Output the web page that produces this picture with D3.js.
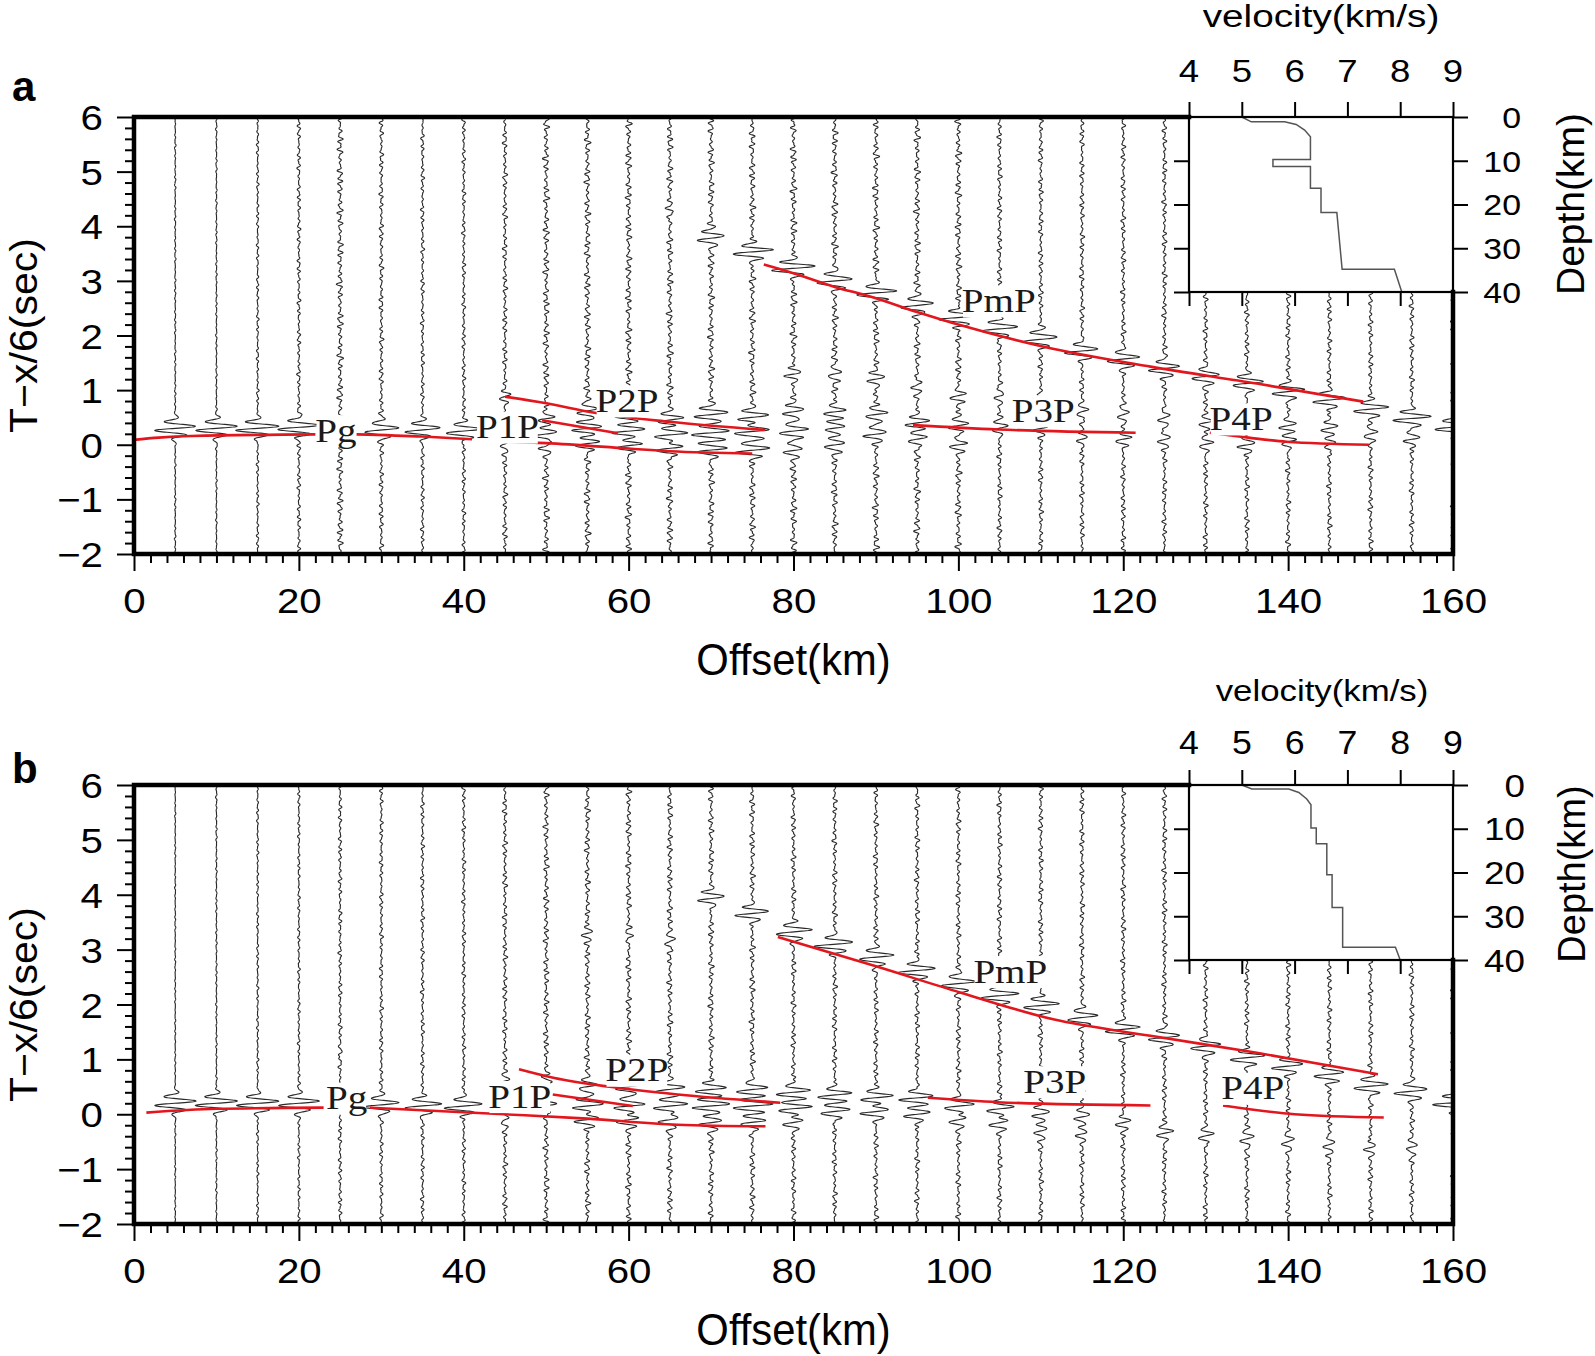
<!DOCTYPE html>
<html><head><meta charset="utf-8">
<script src="https://cdn.jsdelivr.net/npm/d3@7"></script>
<style>body{margin:0;background:#fff} svg{display:block}</style>
</head><body>
<svg id="c" width="1595" height="1356"></svg>
<script>
// ---------------- DATA ----------------
const traceOffsets = [5,10,15,20,25,30,35,40,45,50,55,60,65,70,75,80,85,90,95,100,105,110,115,120,125,130,135,140,145,150,155,160];
const xTicks = [0,20,40,60,80,100,120,140,160];
const yTicks = [-2,-1,0,1,2,3,4,5,6];
const velTicks = [4,5,6,7,8,9];
const depthTicks = [0,10,20,30,40];
const phaseNames = ["Pg","P1P","P2P","PmP","P3P","P4P"];

// arrivals: [offset km, reduced time s, relative amplitude]
const arrivalsA = [
 [5,0.30,1.0],[10,0.30,1.0],[15,0.30,1.0],[20,0.32,1.0],
 [25,0.45,0.12],
 [30,0.27,0.85],[35,0.27,0.85],[40,0.25,0.85],
 [45,0.88,0.2],[45,0.28,0.25],[45,0.02,0.22],
 [50,0.48,0.35],[50,0.20,0.5],[50,-0.02,0.35],
 [55,0.62,0.5],[55,0.30,0.65],[55,0.02,0.55],
 [60,0.55,0.6],[60,0.25,0.75],[60,-0.02,0.55],
 [65,4.2,0.2],[65,0.45,0.65],[65,0.18,0.9],[65,-0.07,0.7],
 [70,3.78,0.7],[70,0.55,0.75],[70,0.22,0.9],[70,-0.1,0.65],
 [75,3.53,0.9],[75,0.50,0.8],[75,0.24,0.9],[75,-0.1,0.75],
 [80,3.23,0.95],[80,1.3,0.3],[80,0.6,0.5],[80,0.25,0.6],[80,-0.1,0.5],
 [85,3.0,0.95],[85,1.3,0.35],[85,0.6,0.45],[85,0.3,0.5],[85,0.0,0.5],
 [90,2.78,0.9],[90,1.2,0.35],[90,0.55,0.45],[90,0.2,0.5],
 [95,2.55,0.85],[95,1.1,0.3],[95,0.4,0.5],[95,0.1,0.45],
 [100,2.33,0.85],[100,0.9,0.3],[100,0.35,0.45],[100,0.0,0.4],
 [105,2.12,0.85],[105,0.9,0.25],[105,0.3,0.35],
 [110,1.93,0.85],[110,0.8,0.25],[110,0.3,0.3],
 [115,1.72,0.8],[115,0.6,0.3],[115,0.1,0.25],
 [120,1.57,0.8],[120,0.55,0.3],[120,0.1,0.3],
 [125,1.40,0.75],[125,0.5,0.3],[125,0.1,0.3],
 [130,1.25,0.7],[130,0.4,0.3],[130,0.0,0.3],
 [135,1.12,0.75],[135,0.35,0.35],[135,0.0,0.35],
 [140,0.97,0.75],[140,0.35,0.35],[140,0.05,0.35],
 [145,0.82,0.75],[145,0.3,0.35],[145,0.0,0.3],
 [150,0.65,0.8],[150,0.2,0.4],
 [155,0.48,0.85],[155,0.1,0.35],
 [160,0.32,0.85]
];
const arrivalsB = [
 [5,0.2,1.0],[10,0.2,1.0],[15,0.2,1.0],[20,0.2,1.0],
 [25,1.1,0.1],
 [30,0.17,0.85],[35,0.15,0.85],[40,0.15,0.85],
 [45,0.6,0.2],[45,-0.1,0.2],
 [50,0.55,0.25],[50,0.15,0.5],
 [55,3.3,0.25],[55,0.5,0.5],[55,0.15,0.75],[55,-0.1,0.6],
 [60,3.2,0.2],[60,0.5,0.6],[60,0.15,0.75],[60,-0.1,0.6],
 [65,3.15,0.3],[65,0.45,0.7],[65,0.15,0.9],[65,-0.1,0.6],
 [70,3.93,0.6],[70,0.45,0.7],[70,0.15,0.9],[70,-0.15,0.6],
 [75,3.66,0.7],[75,0.45,0.75],[75,0.15,0.9],[75,-0.15,0.6],
 [80,3.32,0.9],[80,0.4,0.8],[80,0.1,0.8],[80,-0.15,0.5],
 [85,3.1,0.9],[85,0.35,0.75],[85,0.05,0.7],
 [90,2.86,0.85],[90,0.3,0.8],[90,0.05,0.7],
 [95,2.62,0.85],[95,0.3,0.8],[95,0.0,0.6],
 [100,2.38,0.85],[100,0.15,0.8],[100,-0.1,0.5],
 [105,2.16,0.85],[105,0.1,0.7],[105,-0.15,0.5],
 [110,1.98,0.8],[110,0.0,0.4],[110,-0.3,0.35],
 [115,1.76,0.8],[115,-0.05,0.4],[115,-0.35,0.3],
 [120,1.55,0.8],[120,-0.15,0.35],
 [125,1.40,0.75],[125,-0.35,0.35],
 [130,1.24,0.75],[130,-0.4,0.35],
 [135,1.03,0.75],[135,-0.45,0.35],
 [140,0.88,0.7],[140,-0.5,0.35],
 [145,0.73,0.7],[145,-0.55,0.3],
 [150,0.51,0.8],[150,-0.6,0.3],
 [155,0.42,0.85],[155,-0.6,0.3],
 [160,0.21,0.85]
];
// background noise level per trace (same order as traceOffsets)
const noiseA = [0.04,0.04,0.07,0.1,0.17,0.12,0.1,0.1,0.13,0.17,0.17,0.17,0.17,0.17,0.17,0.18,0.17,0.17,0.17,0.17,0.13,0.13,0.13,0.13,0.13,0.13,0.13,0.13,0.13,0.13,0.13,0.13];
const noiseB = [0.03,0.04,0.06,0.07,0.1,0.1,0.1,0.1,0.13,0.15,0.15,0.15,0.15,0.15,0.15,0.13,0.13,0.13,0.13,0.13,0.13,0.13,0.13,0.13,0.13,0.13,0.13,0.13,0.13,0.13,0.13,0.13];

// picked travel-time curves (red): [offset km, time s]
const pgA1 = [[0,0.09],[3,0.13],[7,0.16],[22,0.19]];
const pgA2 = [[27,0.19],[35,0.15],[41,0.10]];
const pgA3 = [[43,0.07],[50,0.03],[60,-0.07],[65,-0.12],[75,-0.16]];
const p1pA = [[49.5,0.45],[58.7,0.21]];
const p2pA = [[45,0.88],[50,0.76],[55.7,0.59],[64.9,0.42],[76.6,0.27]];
const pmpA = [[76.4,3.30],[79.6,3.16],[85,2.89],[89.4,2.71],[95,2.43],[100.2,2.19],[110.5,1.79],[123.3,1.43],[136.2,1.12],[149.1,0.79]];
const p3pA = [[94.5,0.36],[104.8,0.28],[121.5,0.22]];
const p4pA = [[130.5,0.22],[135.2,0.13],[139.8,0.055],[149.8,0.0]];

const pgB1 = [[1.5,0.03],[10,0.10],[23,0.12]];
const pgB2 = [[28.6,0.12],[44.9,0.0],[55,-0.08],[65.9,-0.19],[76.6,-0.22]];
const p1pB = [[50.8,0.36],[60.5,0.15]];
const p2pB = [[46.7,0.82],[51,0.66],[57.7,0.50],[66,0.36],[78.4,0.21]];
const pmpB = [[78.1,3.23],[89.9,2.70],[100.2,2.22],[111.5,1.73],[123.3,1.43],[136.2,1.12],[150.9,0.73]];
const p3pB = [[96.3,0.30],[104.8,0.22],[123.3,0.16]];
const p4pB = [[132.1,0.16],[140.8,0.0],[151.6,-0.06]];

// phase label anchors [offset km, time s]
const labelPosA = [[24.5,0.055],[45.3,0.12],[59.8,0.60],[104.9,2.43],[110.3,0.42],[134.3,0.27]];
const labelPosB = [[25.8,0.09],[46.8,0.12],[61.0,0.60],[106.3,2.40],[111.7,0.39],[135.7,0.27]];

// velocity models (inset)
const velA = [5.0,5.18,5.81,6.03,6.19,6.30,6.30,5.59,5.59,6.30,6.30,6.50,6.50,6.80,6.90,7.89,8.03];
const depA = [0,1.1,1.1,1.7,3.0,4.5,9.7,9.7,11.3,11.3,16.3,16.3,21.8,21.8,34.8,34.8,40];
const velB = [5.0,5.19,5.89,6.08,6.23,6.31,6.31,6.41,6.41,6.61,6.61,6.71,6.71,6.91,6.91,7.91,8.0];
const depB = [0,0.9,0.9,1.7,3.2,4.5,9.8,9.8,13.4,13.4,20.5,20.5,28.0,28.0,37.1,37.1,40];

// ---------------- DRAW ----------------
const svg = d3.select("#c");
const SANS = "'Liberation Sans', Arial, Helvetica, sans-serif";
const SERIF = "'Liberation Serif', 'Times New Roman', serif";
const RED = "#e3161d";
const GAIN = 2.7;     // km of offset per unit amplitude
const PER = 0.17, SIG = 0.15;

function wav(tau){ return Math.sin(2*Math.PI*tau/PER)*Math.exp(-(tau/SIG)*(tau/SIG)); }
function noiseTex(t,k){
  const ph = k*1.7 + 0.3;
  const base = 0.55*Math.sin(2*Math.PI*t/0.13+ph) + 0.3*Math.sin(2*Math.PI*t/0.077+2.3*ph) + 0.15*Math.sin(2*Math.PI*t/0.21+0.7*ph);
  return base*(0.3+0.7*Math.abs(Math.sin(2*Math.PI*t/1.3+0.9*ph)));
}

function txt(g, x, y, s, o){
  let tr = `translate(${x},${y})`;
  if (o.rot) tr += ` rotate(${o.rot})`;
  if (o.sx || o.sy) tr += ` scale(${o.sx||1},${o.sy||1})`;
  const t = g.append("text").attr("transform", tr)
    .attr("text-anchor", o.anchor||"middle")
    .attr("font-family", o.family||SANS)
    .attr("font-size", o.size)
    .attr("font-weight", o.weight||"normal")
    .attr("fill","#000").text(s);
  if (o.dy) t.attr("dy", o.dy);
  return t;
}

const panels = [
 { key:"a", box:{x0:134,x1:1453,y0:117,y1:554}, arrivals:arrivalsA, noise:noiseA,
   picks:[pgA1,pgA2,pgA3,p1pA,p2pA,pmpA,p3pA,p4pA], labels:labelPosA, vel:velA, dep:depA,
   st:{velTitle:[1321,27,31,1.25], velTick:[31,1.18,35], depTick:[30,1.13,1521], depTitle:[1584,204,39],
       letter:[12,101]} },
 { key:"b", box:{x0:134,x1:1453,y0:785,y1:1224}, arrivals:arrivalsB, noise:noiseB,
   picks:[pgB1,pgB2,p1pB,p2pB,pmpB,p3pB,p4pB], labels:labelPosB, vel:velB, dep:depB,
   st:{velTitle:[1322,701,29,1.2], velTick:[34,1.05,31], depTick:[32,1.15,1525], depTitle:[1585,874,38],
       letter:[12,783]} }
];

const defs = svg.append("defs");

panels.forEach(P => {
  const {x0,x1,y0,y1} = P.box;
  const x = d3.scaleLinear().domain([0,160]).range([x0,x1]);
  const y = d3.scaleLinear().domain([-2,6]).range([y1,y0]);
  const g = svg.append("g");

  defs.append("clipPath").attr("id","clip"+P.key)
    .append("rect").attr("x",x0).attr("y",y0).attr("width",x1-x0).attr("height",y1-y0);

  // traces
  const tg = g.append("g").attr("clip-path",`url(#clip${P.key})`);
  const times = d3.range(-2, 6.0001, 0.004);
  const line = d3.line();
  traceOffsets.forEach((o,k) => {
    const ev = P.arrivals.filter(e => e[0] === o);
    const nl = P.noise[k];
    const pts = times.map(t => {
      let d = nl*noiseTex(t,k);
      ev.forEach(e => { d += e[2]*wav(t-e[1]); });
      return [x(o + GAIN*d), y(t)];
    });
    tg.append("path").attr("d", line(pts)).attr("fill","none")
      .attr("stroke","#2a2a2a").attr("stroke-width",1.15);
  });

  // picks (red)
  const pl = d3.line().x(d=>x(d[0])).y(d=>y(d[1])).curve(d3.curveMonotoneX);
  P.picks.forEach(p => {
    g.append("path").attr("d", pl(p)).attr("fill","none").attr("stroke",RED).attr("stroke-width",2.6);
  });

  // phase labels
  P.labels.forEach((lp,i) => {
    const lg = g.append("g").attr("transform",`translate(${x(lp[0])},${y(lp[1])}) scale(1.15,1)`);
    const rect = lg.append("rect").attr("fill","#fff");
    const t = lg.append("text").attr("text-anchor","middle").attr("font-family",SERIF)
      .attr("font-size",34).attr("fill","#1a1a1a").text(phaseNames[i]);
    const bb = t.node().getBBox();
    rect.attr("x",bb.x+1).attr("y",bb.y+4).attr("width",bb.width-2).attr("height",bb.height-6);
  });

  // main axes
  const ax = g.append("g");
  const yAx = ax.append("g").attr("transform",`translate(${x0},0)`)
    .call(d3.axisLeft(y).tickValues(yTicks).tickSize(17).tickPadding(14).tickFormat(d3.format("d")));
  const yMinor = d3.range(-2,6.0001,0.2).filter(v => Math.abs(v-Math.round(v))>1e-6);
  ax.append("g").attr("transform",`translate(${x0},0)`)
    .call(d3.axisLeft(y).tickValues(yMinor).tickSize(9).tickFormat(""));
  const xAx = ax.append("g").attr("transform",`translate(0,${y1})`)
    .call(d3.axisBottom(x).tickValues(xTicks).tickSize(17).tickFormat(d3.format("d")));
  const xMinor = d3.range(0,161,2).filter(v => v%20!==0);
  ax.append("g").attr("transform",`translate(0,${y1})`)
    .call(d3.axisBottom(x).tickValues(xMinor).tickSize(9).tickFormat(""));
  ax.selectAll(".domain").remove();
  ax.selectAll(".tick line").attr("stroke","#000").attr("stroke-width",2);
  yAx.selectAll("text").each(function(){
    const s = d3.select(this); const tx = +s.attr("x");
    s.attr("x",0).attr("dy","0.36em").attr("transform",`translate(${tx},0) scale(1.15,1)`)
     .attr("font-size",35).attr("font-family",SANS).attr("fill","#000");
  });
  xAx.selectAll("text").each(function(){
    const s = d3.select(this);
    s.attr("y",0).attr("dy",0).attr("transform",`translate(0,59) scale(1.15,1)`)
     .attr("font-size",35).attr("font-family",SANS).attr("fill","#000");
  });

  // inset velocity model
  const v = d3.scaleLinear().domain([4,9]).range([1189,x1]);
  const dp = d3.scaleLinear().domain([0,40]).range([y0,y0+175]);
  const ig = g.append("g");
  ig.append("rect").attr("x",v(4)).attr("y",dp(0)).attr("width",v(9)-v(4)).attr("height",dp(40)-dp(0)).attr("fill","#fff");
  ig.append("path").attr("d", d3.line()(P.vel.map((vv,i)=>[v(vv),dp(P.dep[i])])))
    .attr("fill","none").attr("stroke","#555").attr("stroke-width",1.5);
  const iax = ig.append("g");
  iax.append("g").attr("transform",`translate(0,${dp(0)})`).call(d3.axisTop(v).tickValues(velTicks).tickSize(15).tickFormat(""));
  iax.append("g").attr("transform",`translate(0,${dp(40)})`).call(d3.axisBottom(v).tickValues(velTicks).tickSize(14).tickFormat(""));
  iax.append("g").attr("transform",`translate(${v(4)},0)`).call(d3.axisLeft(dp).tickValues(depthTicks).tickSize(15).tickFormat(""));
  iax.append("g").attr("transform",`translate(${v(9)},0)`).call(d3.axisRight(dp).tickValues(depthTicks).tickSize(15).tickFormat(""));
  iax.selectAll(".domain").remove();
  iax.selectAll(".tick line").attr("stroke","#000").attr("stroke-width",2);
  ig.append("rect").attr("x",v(4)).attr("y",dp(0)).attr("width",v(9)-v(4)).attr("height",dp(40)-dp(0))
    .attr("fill","none").attr("stroke","#000").attr("stroke-width",2.2);

  const st = P.st;
  velTicks.forEach(t => txt(ig, v(t), y0-st.velTick[2], String(t), {size:st.velTick[0], sx:st.velTick[1]}));
  depthTicks.forEach(t => txt(ig, st.depTick[2], dp(t), String(t), {size:st.depTick[0], sx:st.depTick[1], anchor:"end", dy:"0.36em"}));
  txt(ig, st.velTitle[0], st.velTitle[1], "velocity(km/s)", {size:st.velTitle[2], sx:st.velTitle[3]});
  txt(ig, st.depTitle[0], st.depTitle[1], "Depth(km)", {size:st.depTitle[2], rot:-90});

  // main frame (thick)
  g.append("path").attr("d",`M${v(4)},${y0}H${x0}V${y1}H${x1}V${dp(40)}`)
    .attr("fill","none").attr("stroke","#000").attr("stroke-width",4.5).attr("stroke-linecap","square");

  // axis titles
  txt(g, (x0+x1)/2, y1+121, "Offset(km)", {size:44, sx:0.95});
  txt(g, 37, (y0+y1)/2, "T\u2212x/6(sec)", {size:38, rot:-90, sx:1.08});
  txt(g, st.letter[0], st.letter[1], P.key, {size:42, weight:"bold", anchor:"start"});
});
</script></body></html>
